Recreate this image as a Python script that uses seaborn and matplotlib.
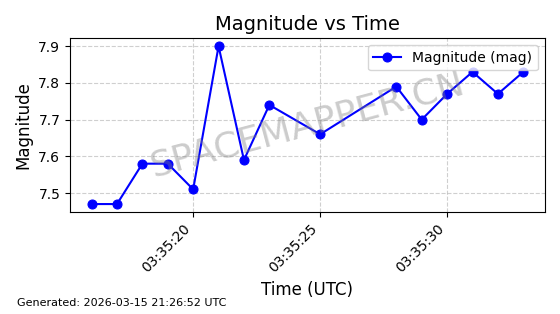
import matplotlib
matplotlib.use("Agg")
import matplotlib.pyplot as plt
import matplotlib.dates as mdates
import seaborn as sns
import pandas as pd

times = ["2026-03-15 03:35:16", "2026-03-15 03:35:17", "2026-03-15 03:35:18",
         "2026-03-15 03:35:19", "2026-03-15 03:35:20", "2026-03-15 03:35:21",
         "2026-03-15 03:35:22", "2026-03-15 03:35:23", "2026-03-15 03:35:25",
         "2026-03-15 03:35:28", "2026-03-15 03:35:29", "2026-03-15 03:35:30",
         "2026-03-15 03:35:31", "2026-03-15 03:35:32", "2026-03-15 03:35:33"]
magnitudes = [7.47, 7.47, 7.58, 7.58, 7.51, 7.90, 7.59, 7.74, 7.66,
              7.79, 7.70, 7.77, 7.83, 7.77, 7.83]
tick_labels_fmt = "%H:%M:%S"

df = pd.DataFrame({"time": pd.to_datetime(times), "mag": magnitudes})

plt.rcdefaults()
plt.rcParams["font.family"] = ["DejaVu Sans"]

fig, ax = plt.subplots(figsize=(5.6, 3.14), dpi=100)
sns.lineplot(data=df, x="time", y="mag", ax=ax, color="blue", marker="o",
             markersize=6.5, markeredgecolor="blue", linewidth=1.5,
             label="Magnitude (mag)")
ax.set_title("Magnitude vs Time", fontsize=14)
ax.set_xlabel("Time (UTC)", fontsize=12)
ax.set_ylabel("Magnitude", fontsize=12)
ax.grid(True, linestyle="--", alpha=0.6)
ax.xaxis.set_major_locator(mdates.SecondLocator(bysecond=range(0, 60, 5)))
ax.xaxis.set_major_formatter(mdates.DateFormatter(tick_labels_fmt))
plt.setp(ax.get_xticklabels(), rotation=45, ha="right")
ax.legend(loc="upper right")
ax.text(0.5, 0.5, "SPACEMAPPER.CN", transform=ax.transAxes, fontsize=26,
        color="gray", alpha=0.4, ha="center", va="center", rotation=15)
fig.subplots_adjust(left=0.125, right=0.973, top=0.878, bottom=0.325)
fig.text(0.03, 0.025, "Generated: 2026-03-15 21:26:52 UTC", fontsize=8)
fig.savefig("out.png", dpi=100)
